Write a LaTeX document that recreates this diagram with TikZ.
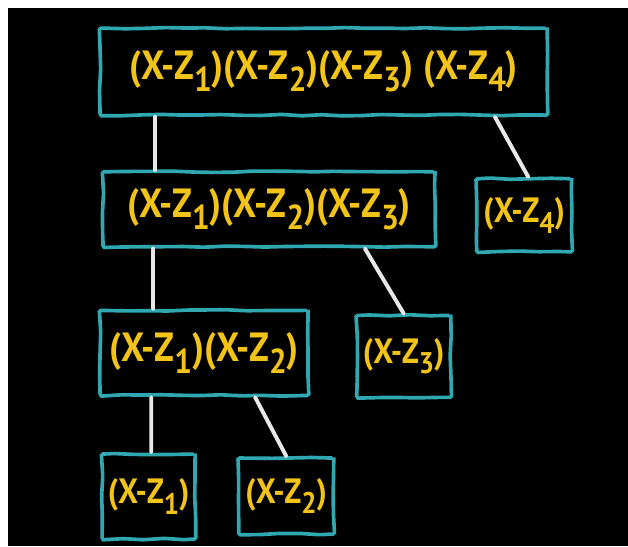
\documentclass[tikz,border=0pt]{standalone}
\usepackage{fontspec}
\setmainfont{PT Sans}
\usepackage{graphicx}
\usetikzlibrary{positioning, decorations.pathmorphing}

\definecolor{chalkcyan}{RGB}{48,168,178}
\definecolor{chalkyellow}{RGB}{242,196,24}
\definecolor{chalkwhite}{RGB}{232,232,232}
\newcommand{\fac}[1]{\scalebox{0.9}[1]{(X-Z\raisebox{-0.6ex}{\scalebox{0.85}{#1}})}}

\begin{document}
\begin{tikzpicture}[
    factor/.style={rectangle, draw=chalkcyan, line width=2.6pt, text=chalkyellow, inner sep=0pt, align=center,
        decorate, decoration={random steps, segment length=5mm, amplitude=0.5pt}, rounded corners=1pt},
    bigbox/.style={factor, font=\fontsize{29}{32}\selectfont\bfseries},
    smallbox/.style={factor, font=\fontsize{25}{28}\selectfont\bfseries},
    link/.style={chalkwhite, line width=2.8pt, line cap=round}
]
\pgfmathsetseed{7}
\useasboundingbox (0,0) rectangle (15.7,13.65);
\fill[black] (0.2,0) rectangle (15.7,13.45);

% products
\node[bigbox, minimum width=11.175cm, minimum height=2.175cm] (p4) at (8.09,11.86) {\fac{1}\fac{2}\fac{3} \fac{4}};
\node[bigbox, minimum width=8.3cm, minimum height=1.875cm, below right=1.325cm and 0.075cm of p4.south west] (p3) {\fac{1}\fac{2}\fac{3}};
\node[bigbox, minimum width=5.2cm, minimum height=2.125cm, below right=1.5cm and -0.075cm of p3.south west] (p2) {\fac{1}\fac{2}};
% single factors
\node[smallbox, minimum width=2.375cm, minimum height=1.825cm, below right=0.175cm and 0.95cm of p3.north east] (f4) {\fac{4}};
\node[smallbox, minimum width=2.35cm, minimum height=2.05cm, below right=0.125cm and 1.125cm of p2.north east] (f3) {\fac{3}};
\node[smallbox, minimum width=2.325cm, minimum height=2.125cm, below right=1.375cm and 0.05cm of p2.south west] (f1) {\fac{1}};
\node[smallbox, minimum width=2.375cm, minimum height=1.9cm, below right=0.1cm and 1cm of f1.north east] (f2) {\fac{2}};

\draw[link] ([xshift=1.425cm]p4.south west) -- ([xshift=1.35cm]p3.north west);
\draw[link] ([xshift=-1.35cm]p4.south east) -- ([xshift=0.1cm]f4.north);
\draw[link] ([xshift=1.3cm]p3.south west) -- ([xshift=1.375cm]p2.north west);
\draw[link] ([xshift=-1.8cm]p3.south east) -- (f3.north);
\draw[link] ([xshift=1.325cm]p2.south west) -- ([xshift=1.275cm]f1.north west);
\draw[link] ([xshift=1.275cm]p2.south) -- (f2.north);
\end{tikzpicture}
\end{document}
